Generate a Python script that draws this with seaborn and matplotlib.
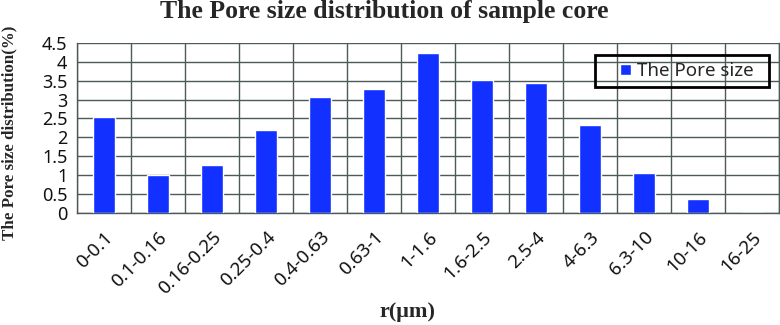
"""Pore size distribution bar chart of the sample core."""

import matplotlib

matplotlib.use("Agg")
import matplotlib.pyplot as plt
import numpy as np
import pandas as pd
import seaborn as sns
from matplotlib.patches import Rectangle

ranges = ["0-0.1", "0.1-0.16", "0.16-0.25", "0.25-0.4", "0.4-0.63", "0.63-1",
          "1-1.6", "1.6-2.5", "2.5-4", "4-6.3", "6.3-10", "10-16", "16-25"]
pore_pct = [2.55, 1.00, 1.28, 2.20, 3.08, 3.28, 4.22, 3.52, 3.43, 2.33, 1.06, 0.36, 0.0]
y_ticks = [0, 0.5, 1, 1.5, 2, 2.5, 3, 3.5, 4, 4.5]
y_tick_labels = ["0", "0.5", "1", "1.5", "2", "2.5", "3", "3.5", "4", "4.5"]

BAR = "#1230ff"
GRID = "#4d5a5a"

sns.set_theme(style="white")
plt.rcParams["font.family"] = ["Noto Sans", "DejaVu Sans"]

df = pd.DataFrame({"range": ranges, "pct": pore_pct})

fig = plt.figure(figsize=(7.8, 3.25), dpi=100)
ax = fig.add_axes([0.099, 0.345, 0.900, 0.523])

sns.barplot(data=df, x="range", y="pct", color=BAR, width=0.41, saturation=1,
            label="The Pore size", ax=ax, zorder=3)

n = len(ranges)
ax.set_xlim(-0.5, n - 0.5)
ax.set_ylim(0, 4.5)
ax.set_yticks(y_ticks)
ax.set_yticklabels(y_tick_labels, fontsize=13, color="#111111")
ax.set_xticks(np.arange(n))
ax.set_xticklabels(ranges, rotation=45, ha="right", rotation_mode="anchor",
                   fontsize=13.5, color="#111111")
ax.set_xticks(np.arange(n + 1) - 0.5, minor=True)

ax.tick_params(axis="x", which="major", length=0, pad=11)
ax.tick_params(axis="x", which="minor", length=5, width=1, color=GRID, direction="out")
ax.tick_params(axis="y", length=5, width=1, color=GRID, direction="out", pad=2)
ax.grid(axis="y", which="major", color=GRID, linewidth=1, zorder=0)
ax.grid(axis="x", which="minor", color=GRID, linewidth=1, zorder=0)
ax.grid(axis="x", which="major", visible=False)
for side in ["left", "bottom", "top", "right"]:
    ax.spines[side].set_color(GRID)
    ax.spines[side].set_linewidth(1)
ax.spines["top"].set_visible(False)

ax.set_xlabel("")
ax.set_ylabel("")

serif = ["Liberation Serif", "DejaVu Serif"]
fig.suptitle("The Pore size distribution of sample core", x=0.493, y=1.0,
             fontsize=18.5, fontweight="bold", family=serif)
fig.text(0.012, 0.59, "The Pore size distribution(%)", rotation=90, ha="center",
         va="center", fontsize=12.2, fontweight="bold", family=serif)
fig.text(0.523, 0.04, "r(\u03bcm)", ha="center", va="center", fontsize=16,
         fontweight="bold", family=serif)

# legend content without frame, plus a wide black box drawn around it
leg = ax.legend(loc="center left", bbox_to_anchor=(0.7735, 0.835), frameon=False,
                fontsize=13.5, handlelength=0.55, handleheight=0.55,
                handletextpad=0.35, borderpad=0, borderaxespad=0)
leg.set_zorder(5)
ax.add_patch(Rectangle((0.738, 0.741), 0.248, 0.188, transform=ax.transAxes,
                       fill=False, edgecolor="black", linewidth=2, zorder=6,
                       clip_on=False))

fig.savefig("out.png", dpi=100)
plt.close(fig)
